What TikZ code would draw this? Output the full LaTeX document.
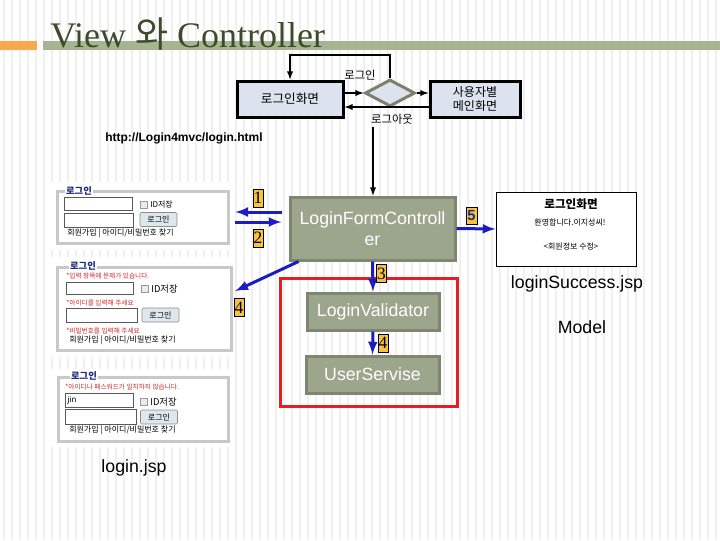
\documentclass[tikz,border=0pt]{standalone}
\usepackage{fontspec}
\setmainfont{Liberation Serif}
\setsansfont{Liberation Sans}
\newfontfamily\kofont{Noto Sans CJK KR}
\usetikzlibrary{shapes.geometric}
\usetikzlibrary{arrows}
\definecolor{barGreen}{HTML}{A5B592}
\definecolor{barOrange}{HTML}{F8A94D}
\definecolor{titleInk}{HTML}{3E4B2A}
\definecolor{viewFill}{HTML}{DCE3EE}
\definecolor{decideLine}{HTML}{7E806C}
\definecolor{ctrlFill}{HTML}{9CA68C}
\definecolor{ctrlLine}{HTML}{7D866F}
\definecolor{flowBlue}{HTML}{1C1CC4}
\definecolor{tagFill}{HTML}{F5C242}
\definecolor{modelRed}{HTML}{E31E24}
\definecolor{frameGray}{HTML}{C8C8C8}
\definecolor{legendInk}{HTML}{1F2A80}
\definecolor{warnRed}{HTML}{D02828}
\definecolor{btnFill}{HTML}{DDE8EE}
\newdimen\pxu \pxu=0.75pt
\tikzset{
    stripe/.style={black!6, line width=2.5\pxu},
    viewbox/.style={draw=black, line width=3\pxu, fill=viewFill, inner sep=0pt, align=center,
        font=\kofont\fontsize{9.5}{11}\selectfont},
    decide/.style={diamond, aspect=1.85, draw=decideLine, line width=3\pxu, fill=viewFill, inner sep=0pt},
    tip/.style={black, line width=1.5\pxu, -latex},
    smallko/.style={inner sep=0pt, font=\kofont\fontsize{8.5}{10}\selectfont},
    ctrl/.style={draw=ctrlLine, line width=3\pxu, fill=ctrlFill, text=white, align=center, inner sep=0pt,
        font=\sffamily\fontsize{13.3}{16}\selectfont},
    flow/.style={flowBlue, line width=3\pxu, -latex},
    numtag/.style={draw=black, line width=0.6\pxu, fill=tagFill, inner sep=0pt, minimum width=10\pxu,
        minimum height=18\pxu, font=\fontsize{13}{13}\selectfont},
    shot/.style={fill=white, inner sep=0pt},
    frame/.style={frameGray, line width=3\pxu},
    legend/.style={fill=white, text=legendInk, inner sep=1pt, font=\kofont\bfseries\fontsize{7}{8}\selectfont},
    field/.style={draw=black!65, fill=white, line width=1\pxu},
    chk/.style={draw=black!40, fill=black!8, line width=0.8\pxu},
    formtext/.style={anchor=west, inner sep=0pt, font=\kofont\fontsize{6}{7}\selectfont},
    warn/.style={anchor=west, inner sep=0pt, text=warnRed, font=\kofont\fontsize{5}{6}\selectfont},
    btn/.style={draw=black!45, fill=btnFill, rounded corners=1pt, inner sep=0pt, minimum width=37\pxu,
        minimum height=14\pxu, font=\kofont\fontsize{6}{7}\selectfont},
    caption/.style={inner sep=0pt, font=\sffamily\fontsize{13.3}{16}\selectfont}
}
\begin{document}
\begin{tikzpicture}[x=0.75pt, y=-0.75pt]
        \useasboundingbox (0, 0) rectangle (720, 540);
        \foreach \x in {4, 12, ..., 716}
            \draw[stripe] (\x, 0) -- (\x, 540);

        \fill[barOrange] (0, 41) rectangle (37, 50);
        \fill[barGreen] (43, 41) rectangle (720, 50);
        \node[anchor=base west, inner sep=0pt, text=titleInk, font=\fontsize{27}{30}\selectfont] (title)
            at (50, 47) {View {\kofont 와} Controller};

        \node[viewbox, minimum width=106\pxu, minimum height=36\pxu] (loginview) at (290, 99) {로그인화면};
        \node[decide, minimum width=50\pxu, minimum height=27\pxu] (decision) at (390, 93) {};
        \node[viewbox, minimum width=90\pxu, minimum height=36\pxu, font=\kofont\fontsize{9}{10}\selectfont]
            (mainview) at (475, 99) {사용자별\\메인화면};
        \coordinate (back) at ([yshift=-8\pxu]mainview.west);
        \draw[tip] (loginview.east |- decision.west) -- (decision.west);
        \draw[tip] (decision.east) -- (decision.east -| mainview.west);
        \draw[tip] (back) -- (back -| loginview.east);
        \draw[tip] (decision.north) -- (decision.north |- 0, 55) -| (loginview.north);
        \node[smallko] (inlabel) at (360, 75) {로그인};
        \node[smallko] (outlabel) at (392, 119) {로그아웃};

        \node[anchor=west, inner sep=0pt, font=\sffamily\bfseries\fontsize{9}{10}\selectfont] (url)
            at (105, 138) {http://Login4mvc/login.html};

        \node[ctrl, minimum width=165\pxu, minimum height=63\pxu] (controller) at (372.5, 228.5)
            {LoginFormControll\\er};
        \draw[modelRed, line width=3\pxu] (280, 278) rectangle (457, 406);
        \node[ctrl, minimum width=132\pxu, minimum height=37\pxu] (validator) at (373, 311.5) {LoginValidator};
        \node[ctrl, minimum width=133\pxu, minimum height=37\pxu] (service) at (372.5, 374.5) {UserServise};
        \coordinate (entry) at (373, 127);
        \draw[tip] (entry) -- (entry |- controller.north);

        \node[shot, minimum width=185\pxu, minimum height=68\pxu] (panel1) at (142.5, 216) {};
        \node[shot, minimum width=185\pxu, minimum height=100\pxu] (panel2) at (142.5, 307) {};
        \node[shot, minimum width=185\pxu, minimum height=78\pxu] (panel3) at (142.5, 408) {};

        \draw[frame] (57, 191) rectangle (228, 243);
        \node[legend] (leg1) at (79, 191) {로그인};
        \draw[field] (64, 197) rectangle (132, 210);
        \draw[chk] (140, 201) rectangle (147, 208);
        \node[formtext] (keep1) at (150, 204.5) {ID저장};
        \draw[field] (64, 213) rectangle (133, 227);
        \node[btn] (btn1) at (158.5, 219.5) {로그인};
        \node[formtext] (foot1) at (67, 233) {회원가입 | 아이디/비밀번호 찾기};

        \draw[frame] (57, 267) rectangle (231, 350);
        \node[legend] (leg2) at (83, 266) {로그인};
        \node[warn] (warn2a) at (66, 276) {*입력 항목에 문제가 있습니다.};
        \draw[field] (66, 282) rectangle (133, 294);
        \draw[chk] (141, 285) rectangle (148, 292);
        \node[formtext, font=\kofont\fontsize{7}{8}\selectfont] (keep2) at (151, 288.5) {ID저장};
        \node[warn] (warn2b) at (66, 303) {*아이디를 입력해 주세요};
        \draw[field] (66, 308) rectangle (137, 322);
        \node[btn] (btn2) at (160.5, 315) {로그인};
        \node[warn] (warn2c) at (66, 331) {*비밀번호를 입력해 주세요};
        \node[formtext] (foot2) at (69, 340) {회원가입 | 아이디/비밀번호 찾기};

        \draw[frame] (58, 377) rectangle (228, 441);
        \node[legend] (leg3) at (84, 376) {로그인};
        \node[warn] (warn3) at (65, 387) {*아이디나 패스워드가 일치하지 않습니다.};
        \draw[field] (65, 393) rectangle (133, 407);
        \node[formtext] (typed) at (67, 400) {jin};
        \draw[chk] (140, 398) rectangle (147, 405);
        \node[formtext, font=\kofont\fontsize{7}{8}\selectfont] (keep3) at (150, 401.5) {ID저장};
        \draw[field] (65, 409) rectangle (136, 424);
        \node[btn] (btn3) at (159, 417) {로그인};
        \node[formtext] (foot3) at (69, 430) {회원가입 | 아이디/비밀번호 찾기};

        \node[caption] (viewname) at (134, 468) {login.jsp};

        \node[draw=black, line width=1\pxu, fill=white, minimum width=140\pxu, minimum height=74\pxu]
            (success) at (566, 229) {};
        \node[inner sep=0pt, font=\kofont\bfseries\fontsize{8.7}{10}\selectfont] (succtitle) at (571, 204) {로그인화면};
        \node[inner sep=0pt, font=\kofont\fontsize{6}{7}\selectfont] (welcome) at (570, 222) {환영합니다.이지성씨!};
        \node[inner sep=0pt, font=\kofont\fontsize{6}{7}\selectfont] (editlink) at (571, 246) {<회원정보 수정>};
        \node[caption] (succname) at (577, 284) {loginSuccess.jsp};
        \node[caption] (modelname) at (582, 327) {Model};

        \draw[flow, shorten <=7\pxu] (controller.west |- 0, 212) -- (panel1.east |- 0, 212);
        \draw[flow, shorten >=7\pxu] (panel1.east |- 0, 222) -- (controller.west |- 0, 222);
        \draw[flow] ([xshift=10\pxu]controller.south west) -- (panel2.east |- 0, 291);
        \draw[flow] (controller.south) -- (validator.north);
        \draw[flow] (validator.south) -- (service.north);
        \draw[flow] (controller.east) -- (success.west);

        \node[numtag] (tag1) at (258, 198) {1};
        \node[numtag] (tag2) at (258, 238) {2};
        \node[numtag] (tag3) at (381.5, 273.5) {3};
        \node[numtag] (tag4a) at (239, 307.5) {4};
        \node[numtag] (tag4b) at (383, 343) {4};
        \node[numtag, minimum width=11\pxu, minimum height=17\pxu, text=legendInk,
            font=\sffamily\bfseries\fontsize{11}{11}\selectfont] (tag5) at (471.5, 216) {5};
\end{tikzpicture}
\end{document}
